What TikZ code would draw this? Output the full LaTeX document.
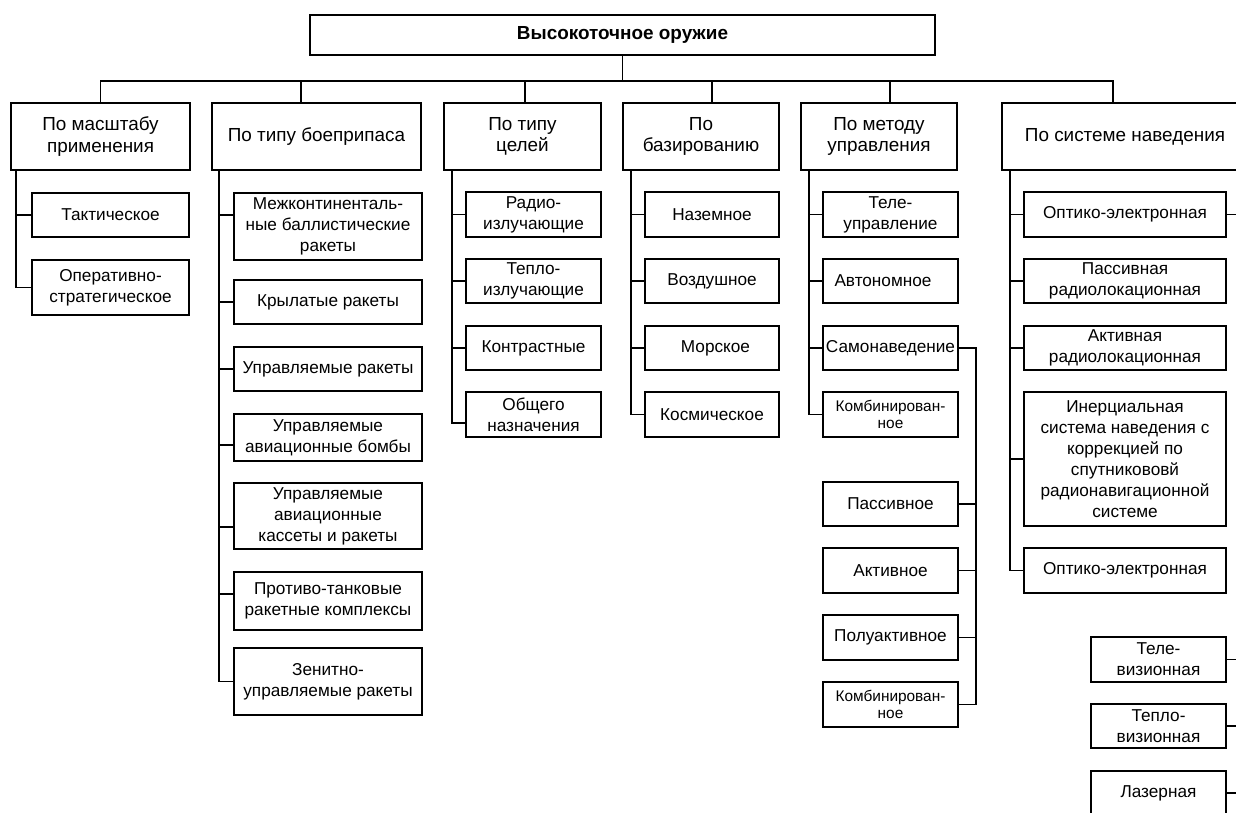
\documentclass[tikz,border=0pt]{standalone}
\usepackage{fontspec}
\setmainfont{Liberation Sans}
\newcommand\boxfont{\fontsize{17.2}{20.9}\selectfont}
\newcommand\headfont{\fontsize{18.9}{21.7}\selectfont}
\newcommand\smallboxfont{\fontsize{15.4}{17.5}\selectfont}
\tikzset{
  box/.style={draw, line width=1.9pt, inner sep=0pt, align=center, font=\boxfont},
  sz/.style 2 args={minimum width=#1pt, minimum height=#2pt},
  link/.style={line width=1.9pt},
}
\begin{document}
\begin{tikzpicture}[x=1pt, y=-1pt]
\useasboundingbox (0,0) rectangle (1236,812);
\clip (0,0) rectangle (1236,812);

% root
\node[box, sz={625}{40}, font=\headfont\bfseries] (top) at (622.5,35) {Высокоточное оружие};

% first level
\node[box, sz={179}{67}, font=\headfont] (L1) at (100.5,136.5) {По масштабу\\применения};
\node[box, sz={209}{67}, font=\headfont] (L2) at (316.5,136.5) {По типу боеприпаса};
\node[box, sz={157}{67}, font=\headfont] (L3) at (522.5,136.5) {По типу\\целей};
\node[box, sz={156}{67}, font=\headfont] (L4) at (701,136.5) {По\\базированию};
\node[box, sz={156}{67}, font=\headfont] (L5) at (879,136.5) {По методу\\управления};
\node[box, sz={246}{67}, font=\headfont] (L6) at (1125,136.5) {По системе наведения};

% scale of use
\node[box, sz={157}{44}] (a1) at (110.5,215) {Тактическое};
\node[box, sz={157}{55}] (a2) at (110.5,287.5) {Оперативно-\\стратегическое};

% type of munition
\node[box, sz={188}{67}] (b1) at (328,226.5) {Межконтиненталь-\\ные баллистические\\ракеты};
\node[box, sz={188}{44}] (b2) at (328,302) {Крылатые ракеты};
\node[box, sz={188}{44}] (b3) at (328,369) {Управляемые ракеты};
\node[box, sz={188}{47}] (b4) at (328,437.5) {Управляемые\\авиационные бомбы};
\node[box, sz={188}{66}] (b5) at (328,516) {Управляемые\\авиационные\\кассеты и ракеты};
\node[box, sz={188}{58}] (b6) at (328,601) {Противо-танковые\\ракетные комплексы};
\node[box, sz={188}{67}] (b7) at (328,681.5) {Зенитно-\\управляемые ракеты};

% type of targets
\node[box, sz={135}{45}] (c1) at (533.5,214.5) {Радио-\\излучающие};
\node[box, sz={135}{44}] (c2) at (533.5,281) {Тепло-\\излучающие};
\node[box, sz={135}{44}] (c3) at (533.5,348) {Контрастные};
\node[box, sz={135}{45}] (c4) at (533.5,414.5) {Общего\\назначения};

% basing
\node[box, sz={134}{45}] (d1) at (712,214.5) {Наземное};
\node[box, sz={134}{44}] (d2) at (712,281) {Воздушное};
\node[box, sz={134}{44}] (d3) at (712,348) {\hspace*{7pt}Морское};
\node[box, sz={134}{45}] (d4) at (712,414.5) {Космическое};

% control method
\node[box, sz={135}{45}] (m1) at (890.5,214.5) {Теле-\\управление};
\node[box, sz={135}{44}] (m2) at (890.5,281) {Автономное\hspace*{15pt}};
\node[box, sz={135}{44}] (m3) at (890.5,348) {Самонаведение};
\node[box, sz={135}{45}, font=\smallboxfont] (m4) at (890.5,414.5) {Комбинирован-\\ное};

% homing kinds
\node[box, sz={135}{44}] (h1) at (890.5,504) {Пассивное};
\node[box, sz={135}{45}] (h2) at (890.5,570.5) {Активное};
\node[box, sz={135}{45}] (h3) at (890.5,637.5) {Полуактивное};
\node[box, sz={135}{45}, font=\smallboxfont] (h4) at (890.5,704.5) {Комбинирован-\\ное};

% guidance system
\node[box, sz={202}{45}] (f1) at (1125,214.5) {Оптико-электронная};
\node[box, sz={202}{44}] (f2) at (1125,281) {Пассивная\\радиолокационная};
\node[box, sz={202}{44}] (f3) at (1125,348) {Активная\\радиолокационная};
\node[box, sz={202}{134}] (f4) at (1125,459) {Инерциальная\\система наведения с\\коррекцией по\\спутникововй\\радионавигационной\\системе};
\node[box, sz={202}{45}] (f5) at (1125,570.5) {Оптико-электронная};

% optical-electronic kinds
\node[box, sz={135}{45}] (g1) at (1158.5,659.5) {Теле-\\визионная};
\node[box, sz={135}{44}] (g2) at (1158.5,726) {Тепло-\\визионная};
\node[box, sz={135}{44}] (g3) at (1158.5,793) {Лазерная};

% root to first level
\coordinate (bar) at (622.5,81);
\draw[link] (top.south) -- (bar);
\draw[link] (L1.north) |- (bar);
\draw[link] ([xshift=-15.5pt]L2.north) |- (bar);
\draw[link] ([xshift=2.5pt]L3.north) |- (bar);
\draw[link] ([xshift=11pt]L4.north) |- (bar);
\draw[link] ([xshift=11pt]L5.north) |- (bar);
\draw[link] ([xshift=-12pt]L6.north) |- (bar);

% spines under the first level
\coordinate (s1) at ([xshift=6pt]L1.south west);
\coordinate (s2) at ([xshift=8pt]L2.south west);
\coordinate (s3) at ([xshift=9pt]L3.south west);
\coordinate (s4) at ([xshift=9pt]L4.south west);
\coordinate (s5) at ([xshift=9pt]L5.south west);
\coordinate (s6) at ([xshift=9pt]L6.south west);

% column 1
\draw[link] (s1) |- (a2.west);
\draw[link] (s1 |- a1.west) -- (a1.west);

% column 2
\coordinate (b1in) at ([yshift=11.5pt]b1.west);
\coordinate (b4in) at ([yshift=-7.5pt]b4.west);
\coordinate (b5in) at ([yshift=-11pt]b5.west);
\coordinate (b6in) at ([yshift=7pt]b6.west);
\draw[link] (s2) |- (b7.west);
\draw[link] (s2 |- b1in) -- (b1in);
\draw[link] (s2 |- b2.west) -- (b2.west);
\draw[link] (s2 |- b3.west) -- (b3.west);
\draw[link] (s2 |- b4in) -- (b4in);
\draw[link] (s2 |- b5in) -- (b5in);
\draw[link] (s2 |- b6in) -- (b6in);

% column 3
\coordinate (c4in) at ([yshift=-8.5pt]c4.west);
\draw[link] (s3) |- (c4in);
\draw[link] (s3 |- c1.west) -- (c1.west);
\draw[link] (s3 |- c2.west) -- (c2.west);
\draw[link] (s3 |- c3.west) -- (c3.west);

% column 4
\draw[link] (s4) |- (d4.west);
\draw[link] (s4 |- d1.west) -- (d1.west);
\draw[link] (s4 |- d2.west) -- (d2.west);
\draw[link] (s4 |- d3.west) -- (d3.west);

% column 5
\draw[link] (s5) |- (m4.west);
\draw[link] (s5 |- m1.west) -- (m1.west);
\draw[link] (s5 |- m2.west) -- (m2.west);
\draw[link] (s5 |- m3.west) -- (m3.west);

% homing branch
\coordinate (t5) at ([xshift=17pt]m3.east);
\draw[link] (m3.east) -- (t5) |- (h4.east);
\draw[link] (t5 |- h1.east) -- (h1.east);
\draw[link] (t5 |- h2.east) -- (h2.east);
\draw[link] (t5 |- h3.east) -- (h3.east);

% column 6
\draw[link] (s6) |- (f5.west);
\draw[link] (s6 |- f1.west) -- (f1.west);
\draw[link] (s6 |- f2.west) -- (f2.west);
\draw[link] (s6 |- f3.west) -- (f3.west);
\draw[link] (s6 |- f4.west) -- (f4.west);

% stubs leaving to the right
\coordinate (r1) at ([xshift=20pt]f1.east);
\coordinate (r2) at ([xshift=20pt]g1.east);
\coordinate (r3) at ([xshift=20pt]g2.east);
\coordinate (r4) at ([xshift=20pt]g3.east);
\draw[link] (f1.east) -- (r1);
\draw[link] (g1.east) -- (r2);
\draw[link] (g2.east) -- (r3);
\draw[link] (g3.east) -- (r4);
\end{tikzpicture}
\end{document}
